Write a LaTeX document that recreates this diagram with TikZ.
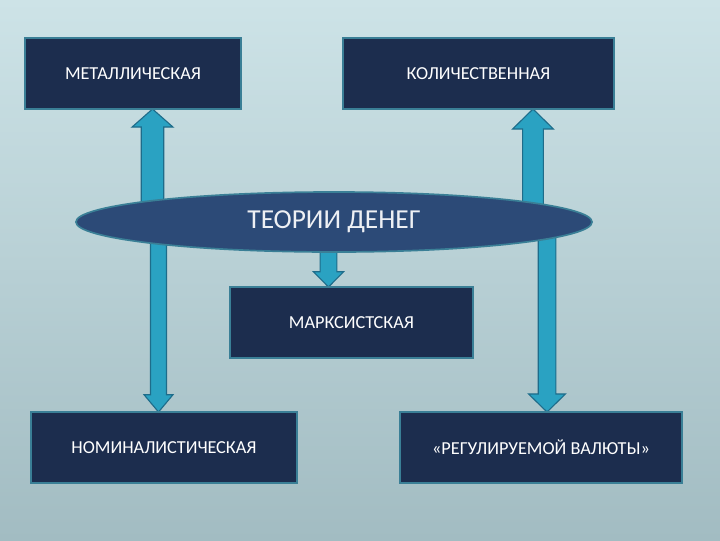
\documentclass[tikz,border=0pt]{standalone}
\usepackage{fontspec}
\setmainfont{Carlito}
\usetikzlibrary{shapes,arrows,positioning,calc,backgrounds}

\definecolor{boxfill}{HTML}{1C2D4E}
\definecolor{boxline}{HTML}{3A7F96}
\definecolor{ovalfill}{HTML}{2C4A77}
\definecolor{arrfill}{HTML}{2AA2C2}
\definecolor{arrline}{HTML}{1E6C8A}
\definecolor{bgtop}{HTML}{CDE3E7}
\definecolor{bgbottom}{HTML}{A2BCC2}

\pgfdeclarelayer{arrowlayer}
\pgfsetlayers{background,arrowlayer,main}

\tikzset{
  theorybox/.style={draw=boxline, fill=boxfill, line width=1.2pt, text=white,
        minimum height=1.775cm, inner sep=0pt, outer sep=0pt,
        font=\fontsize{13}{15}\selectfont},
  centre/.style={ellipse, draw=boxline, fill=ovalfill, line width=1.2pt, text=white!92!ovalfill,
        minimum width=12.9cm, minimum height=1.5cm, inner sep=0pt,
        font=\fontsize{19.5}{22}\selectfont},
  blockarr/.style={draw=arrline, fill=arrfill, line width=0.8pt, line join=miter}
}

% start, end, shaft half width, head half width, head length
\newcommand{\blockarrow}[5]{%
  \coordinate (hb) at ($(#2)!#5!(#1)$);
  \draw[blockarr] ($(#1)!#3!-90:(#2)$) -- ($(hb)!#3!-90:(#2)$) -- ($(hb)!#4!-90:(#2)$)
    -- (#2) -- ($(hb)!#4!90:(#2)$) -- ($(hb)!#3!90:(#2)$) -- ($(#1)!#3!90:(#2)$) -- cycle;}

\begin{document}
\begin{tikzpicture}[x=0.025cm, y=-0.025cm]
  \useasboundingbox (0,0) rectangle (720,540);
  \begin{pgfonlayer}{background}
    \shade[top color=bgtop, bottom color=bgbottom] (0,0) rectangle (720,540);
  \end{pgfonlayer}

  % Top row
  \node[theorybox, minimum width=5.4cm] (metal) at (133,73.5) {МЕТАЛЛИЧЕСКАЯ};
  \node[theorybox, minimum width=6.775cm] (quant) at (478.5,73.5) {КОЛИЧЕСТВЕННАЯ};
  % Centre
  \node[centre] (theory) at (334,222) {ТЕОРИИ ДЕНЕГ};
  \node[theorybox, minimum width=6.075cm] (marx) at (351.5,322.5) {МАРКСИСТСКАЯ};
  % Bottom row
  \node[theorybox, minimum width=6.65cm] (nomin) at (164,447.5) {НОМИНАЛИСТИЧЕСКАЯ};
  \node[theorybox, minimum width=7.05cm] (regul) at (541,447.5) {«РЕГУЛИРУЕМОЙ ВАЛЮТЫ»};

  % Arrows
  \coordinate (a1) at (152.5,215); \coordinate (a1e) at (a1 |- metal.south);
  \coordinate (a2) at (533,215);   \coordinate (a2e) at (a2 |- quant.south);
  \coordinate (a3) at (158.5,230); \coordinate (a3e) at (a3 |- nomin.north);
  \coordinate (a4) at (547,230);   \coordinate (a4e) at (a4 |- regul.north);
  \coordinate (a5) at (328.5,240); \coordinate (a5e) at (a5 |- marx.north);
  \begin{pgfonlayer}{arrowlayer}
    \blockarrow{a1}{a1e}{0.28cm}{0.51cm}{0.45cm}
    \blockarrow{a2}{a2e}{0.26cm}{0.51cm}{0.5cm}
    \blockarrow{a3}{a3e}{0.2cm}{0.36cm}{0.43cm}
    \blockarrow{a4}{a4e}{0.22cm}{0.46cm}{0.45cm}
    \blockarrow{a5}{a5e}{0.21cm}{0.375cm}{0.38cm}
  \end{pgfonlayer}
\end{tikzpicture}
\end{document}
